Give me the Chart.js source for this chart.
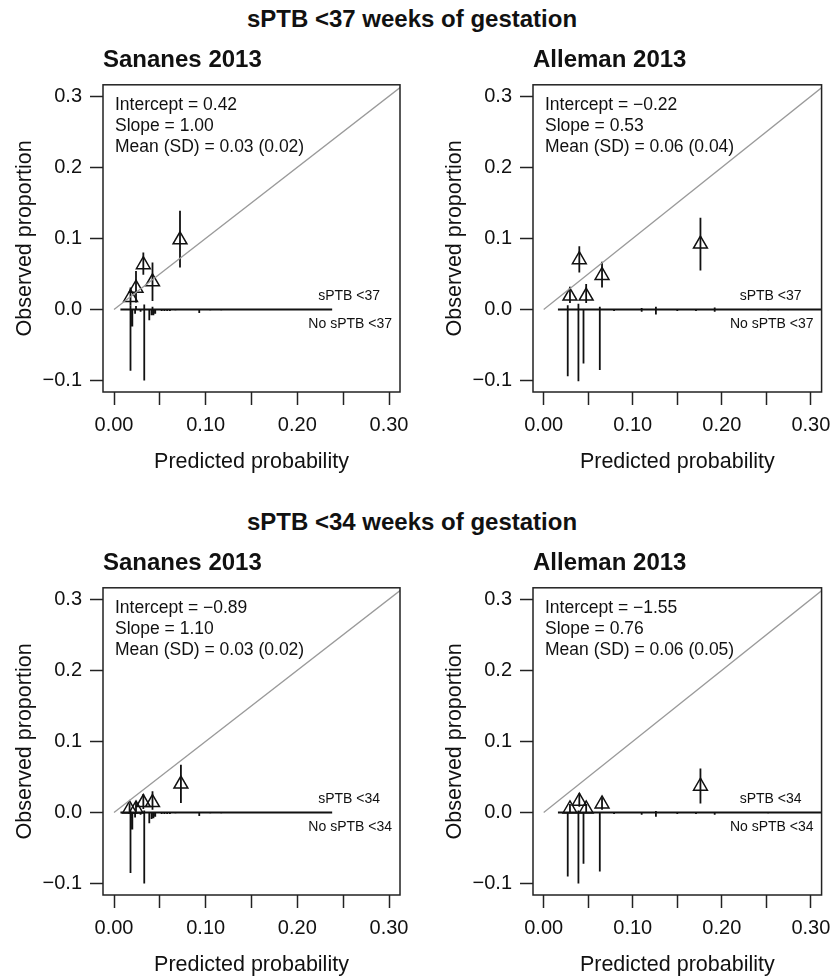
<!DOCTYPE html>
<html><head><meta charset="utf-8">
<script src="https://cdn.jsdelivr.net/npm/chart.js@4.4.1/dist/chart.umd.min.js"></script>
<style>
html,body{margin:0;padding:0;background:#fff;overflow:hidden;}
body{width:839px;height:976px;position:relative;font-family:"Liberation Sans",Arial,sans-serif;color:#111;}
.main{position:absolute;left:0;width:824px;text-align:center;font-weight:bold;font-size:24px;line-height:28px;}
.pan{position:absolute;}
</style></head><body>
<div class="main" style="top:5px">sPTB &lt;37 weeks of gestation</div>
<div class="main" style="top:508px">sPTB &lt;34 weeks of gestation</div>
<canvas id="c1" class="pan" width="420" height="445" style="left:0;top:30px"></canvas>
<canvas id="c2" class="pan" width="409" height="445" style="left:430px;top:30px"></canvas>
<canvas id="c3" class="pan" width="420" height="445" style="left:0;top:533px"></canvas>
<canvas id="c4" class="pan" width="409" height="445" style="left:430px;top:533px"></canvas>
<script>
// ---- axes ----
const xTickValues = [0, 0.05, 0.10, 0.15, 0.20, 0.25, 0.30];
const xTickLabels = ['0.00', '', '0.10', '', '0.20', '', '0.30'];
const yTickValues = [-0.1, 0, 0.1, 0.2, 0.3];
const yTickLabels = ['\u22120.1', '0.0', '0.1', '0.2', '0.3'];
const xLimits = [-0.012, 0.312];
const yLimits = [-0.116, 0.316];
const identityLine = [0, 0.4];

// ---- Sananes 2013, sPTB <37 ----
const san37Pred = [0.018, 0.024, 0.032, 0.042, 0.072];
const san37Obs  = [0.017, 0.030, 0.063, 0.039, 0.098];
const san37Lo   = [0.006, 0.010, 0.049, 0.012, 0.059];
const san37Hi   = [0.031, 0.054, 0.080, 0.066, 0.139];
const san37Range = [0.007, 0.238];
const san37NoX = [0.018, 0.020, 0.023, 0.029, 0.033, 0.0385, 0.041, 0.043, 0.045, 0.052, 0.055, 0.058, 0.061, 0.067, 0.093, 0.105, 0.117];
const san37NoH = [-0.086, -0.024, -0.006, -0.003, -0.100, -0.015, -0.008, -0.008, -0.006, -0.002, -0.002, -0.002, -0.002, -0.001, -0.005, -0.001, -0.001];
const san37YesX = [0.018, 0.024, 0.033, 0.042];
const san37YesH = [0.006, 0.005, 0.007, 0.004];
const san37Stats = ['Intercept = 0.42', 'Slope = 1.00', 'Mean (SD) = 0.03 (0.02)'];

// ---- Alleman 2013, sPTB <37 ----
const all37Pred = [0.0295, 0.040, 0.0477, 0.0655, 0.176];
const all37Obs  = [0.019, 0.070, 0.019, 0.048, 0.092];
const all37Lo   = [0.009, 0.052, 0.009, 0.031, 0.055];
const all37Hi   = [0.032, 0.089, 0.036, 0.067, 0.129];
const all37Range = [0.016, 0.35];
const all37NoX = [0.027, 0.039, 0.0447, 0.063, 0.079, 0.110, 0.126, 0.150, 0.171, 0.192, 0.252];
const all37NoH = [-0.094, -0.101, -0.076, -0.085, -0.002, -0.003, -0.007, -0.002, -0.002, -0.003, -0.001];
const all37YesX = [0.027, 0.039, 0.063, 0.110, 0.126, 0.192];
const all37YesH = [0.006, 0.008, 0.004, 0.002, 0.004, 0.003];
const all37Stats = ['Intercept = \u22120.22', 'Slope = 0.53', 'Mean (SD) = 0.06 (0.04)'];

// ---- Sananes 2013, sPTB <34 ----
const san34Pred = [0.017, 0.024, 0.032, 0.042, 0.073];
const san34Obs  = [0.005, 0.005, 0.014, 0.014, 0.040];
const san34Lo   = [0.001, 0.001, 0.005, 0.004, 0.0135];
const san34Hi   = [0.013, 0.016, 0.026, 0.030, 0.067];
const san34Range = [0.007, 0.238];
const san34NoX = [0.018, 0.020, 0.023, 0.029, 0.033, 0.0385, 0.041, 0.043, 0.045, 0.052, 0.055, 0.058, 0.061, 0.067, 0.093, 0.105, 0.117];
const san34NoH = [-0.085, -0.024, -0.007, -0.003, -0.100, -0.015, -0.009, -0.008, -0.006, -0.002, -0.002, -0.002, -0.002, -0.001, -0.005, -0.001, -0.001];
const san34YesX = [0.018, 0.033];
const san34YesH = [0.003, 0.003];
const san34Stats = ['Intercept = \u22120.89', 'Slope = 1.10', 'Mean (SD) = 0.03 (0.02)'];

// ---- Alleman 2013, sPTB <34 ----
const all34Pred = [0.0295, 0.040, 0.0477, 0.0655, 0.176];
const all34Obs  = [0.005, 0.016, 0.005, 0.012, 0.037];
const all34Lo   = [0.000, 0.008, 0.000, 0.004, 0.0127];
const all34Hi   = [0.012, 0.027, 0.012, 0.021, 0.062];
const all34Range = [0.016, 0.35];
const all34NoX = [0.027, 0.039, 0.0447, 0.063, 0.079, 0.110, 0.126, 0.150, 0.171, 0.192, 0.252];
const all34NoH = [-0.090, -0.100, -0.072, -0.083, -0.002, -0.003, -0.006, -0.002, -0.002, -0.003, -0.001];
const all34YesX = [0.039, 0.126];
const all34YesH = [0.003, 0.002];
const all34Stats = ['Intercept = \u22121.55', 'Slope = 0.76', 'Mean (SD) = 0.06 (0.05)'];

const FONT = '"Liberation Sans", Arial, sans-serif';
Chart.defaults.font.family = FONT;
Chart.defaults.color = '#111';

function segs(xs, a, b) {
  const out = [];
  xs.forEach((x, i) => {
    out.push({x: x, y: a[i]}, {x: x, y: b[i]}, {x: x, y: null});
  });
  return out;
}

function makePanel(id, title, rightPad, d) {
  const zeros = d.noX.map(() => 0);
  const zerosY = d.yesX.map(() => 0);
  const annot = {
    id: 'annot',
    afterDatasetsDraw(chart) {
      const {ctx, chartArea: a, scales: {y}} = chart;
      ctx.save();
      ctx.fillStyle = '#111';
      ctx.textBaseline = 'middle';
      ctx.textAlign = 'left';
      ctx.font = '17.5px ' + FONT;
      d.stats.forEach((t, i) => ctx.fillText(t, a.left + 12, a.top + 20 + i * 21));
      ctx.font = '14px ' + FONT;
      ctx.textAlign = 'right';
      const y0 = y.getPixelForValue(0);
      ctx.fillText(d.yesLabel, a.right - 20, y0 - 13);
      ctx.fillText(d.noLabel, a.right - 8, y0 + 15);
      ctx.strokeStyle = '#222';
      ctx.lineWidth = 1.5;
      ctx.strokeRect(a.left, a.top, a.right - a.left, a.bottom - a.top);
      ctx.restore();
    }
  };
  const lineDs = (data, color, width) => ({
    type: 'scatter', data: data, showLine: true, borderColor: color, borderWidth: width,
    pointRadius: 0, pointHoverRadius: 0, spanGaps: false, fill: false
  });
  new Chart(document.getElementById(id), {
    type: 'scatter',
    data: {
      datasets: [
        lineDs(identityLine.map(v => ({x: v, y: v})), '#9a9a9a', 1.3),
        lineDs(d.range.map(v => ({x: v, y: 0})), '#111', 2.2),
        lineDs(segs(d.noX, zeros, d.noH), '#111', 1.8),
        lineDs(segs(d.yesX, zerosY, d.yesH), '#111', 1.8),
        lineDs(segs(d.pred, d.lo, d.hi), '#111', 1.8),
        {
          type: 'scatter',
          data: d.pred.map((x, i) => ({x: x, y: d.obs[i]})),
          pointStyle: 'triangle', pointRadius: 8, pointHoverRadius: 8,
          borderColor: '#111', backgroundColor: 'rgba(0,0,0,0)', borderWidth: 1.5
        }
      ]
    },
    options: {
      responsive: false,
      animation: false,
      events: [],
      layout: {padding: {left: 12, right: rightPad, top: 15, bottom: 0}},
      plugins: {
        legend: {display: false},
        tooltip: {enabled: false},
        title: {
          display: true, text: title, align: 'start', fullSize: false,
          font: {size: 24, weight: 'bold'}, color: '#111',
          padding: {top: 1, bottom: 10}
        }
      },
      scales: {
        x: {
          type: 'linear', min: xLimits[0], max: xLimits[1],
          afterBuildTicks: s => { s.ticks = xTickValues.map(v => ({value: v})); },
          afterFit: s => { s.height = 83; },
          ticks: {autoSkip: false, maxRotation: 0, padding: 8, font: {size: 20}, color: '#111',
                  callback: (v, i) => xTickLabels[i]},
          grid: {drawOnChartArea: false, drawTicks: true, tickLength: 13, tickWidth: 1.5, tickColor: '#222', color: '#222'},
          border: {display: false},
          title: {display: true, text: 'Predicted probability', font: {size: 21.5}, color: '#111', padding: 0}
        },
        y: {
          type: 'linear', min: yLimits[0], max: yLimits[1],
          afterBuildTicks: s => { s.ticks = yTickValues.map(v => ({value: v})); },
          afterFit: s => { s.width = 91; },
          ticks: {autoSkip: false, padding: 8, font: {size: 20}, color: '#111',
                  callback: (v, i) => yTickLabels[i]},
          grid: {drawOnChartArea: false, drawTicks: true, tickLength: 13, tickWidth: 1.5, tickColor: '#222', color: '#222'},
          border: {display: false},
          title: {display: true, text: 'Observed proportion', font: {size: 21.5}, color: '#111', padding: 0}
        }
      }
    },
    plugins: [annot]
  });
}

makePanel('c1', 'Sananes 2013', 20, {pred: san37Pred, obs: san37Obs, lo: san37Lo, hi: san37Hi, range: san37Range,
  noX: san37NoX, noH: san37NoH, yesX: san37YesX, yesH: san37YesH, stats: san37Stats, yesLabel: 'sPTB <37', noLabel: 'No sPTB <37'});
makePanel('c2', 'Alleman 2013', 9, {pred: all37Pred, obs: all37Obs, lo: all37Lo, hi: all37Hi, range: all37Range,
  noX: all37NoX, noH: all37NoH, yesX: all37YesX, yesH: all37YesH, stats: all37Stats, yesLabel: 'sPTB <37', noLabel: 'No sPTB <37'});
makePanel('c3', 'Sananes 2013', 20, {pred: san34Pred, obs: san34Obs, lo: san34Lo, hi: san34Hi, range: san34Range,
  noX: san34NoX, noH: san34NoH, yesX: san34YesX, yesH: san34YesH, stats: san34Stats, yesLabel: 'sPTB <34', noLabel: 'No sPTB <34'});
makePanel('c4', 'Alleman 2013', 9, {pred: all34Pred, obs: all34Obs, lo: all34Lo, hi: all34Hi, range: all34Range,
  noX: all34NoX, noH: all34NoH, yesX: all34YesX, yesH: all34YesH, stats: all34Stats, yesLabel: 'sPTB <34', noLabel: 'No sPTB <34'});
</script>
</body></html>
